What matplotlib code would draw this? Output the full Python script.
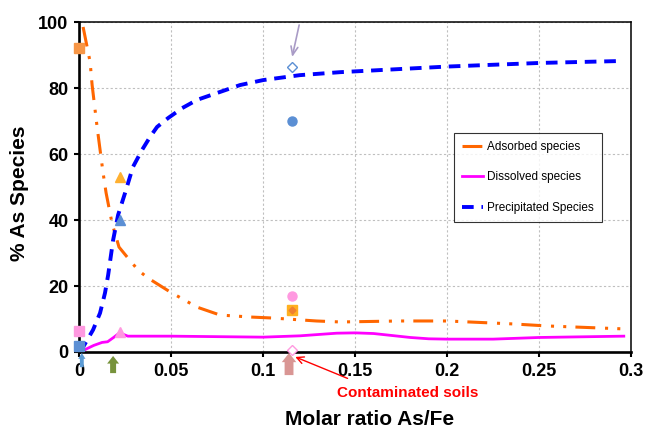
import matplotlib
matplotlib.use("Agg")
import matplotlib.pyplot as plt

plt.rcParams['font.family'] = ['Liberation Sans', 'DejaVu Sans']

# ---- data ----
ads_x = [0.0022, 0.006, 0.0071, 0.0098, 0.013, 0.0147, 0.0179, 0.0217, 0.0261, 0.0321,
         0.0375, 0.0495, 0.0641, 0.0766, 0.093, 0.105, 0.129, 0.142, 0.174, 0.2,
         0.236, 0.254, 0.296]
ads_y = [98.5, 87.9, 80.9, 68.2, 54.5, 48.2, 39.1, 31.8, 28.8, 24.8,
         22.4, 18.2, 13.6, 11.2, 10.6, 10.3, 9.4, 9.1, 9.4, 9.4,
         8.5, 7.9, 7.0]

dis_x = [0.0005, 0.008, 0.0125, 0.0155, 0.019, 0.022, 0.0265, 0.035, 0.05, 0.1,
         0.12, 0.13, 0.14, 0.15, 0.16, 0.17, 0.18, 0.19, 0.2, 0.225, 0.25, 0.296]
dis_y = [0.0, 2.0, 2.9, 3.1, 4.5, 5.8, 4.8, 4.8, 4.8, 4.5,
         4.9, 5.3, 5.7, 5.8, 5.6, 5.0, 4.4, 4.0, 3.9, 3.9, 4.4, 4.8]

pre_x = [0.0005, 0.0022, 0.0076, 0.0114, 0.0141, 0.0158, 0.0185, 0.0212, 0.025, 0.0293,
         0.0342, 0.0386, 0.0424, 0.0484, 0.056, 0.0641, 0.075, 0.0875, 0.1, 0.12,
         0.1418, 0.2, 0.2505, 0.2957]
pre_y = [0.0, 1.5, 6.7, 11.8, 17.9, 23.3, 33.9, 41.5, 48.2, 56.1,
         61.2, 65.2, 68.2, 70.9, 73.9, 76.4, 78.5, 80.9, 82.4, 83.9,
         84.8, 86.5, 87.6, 88.2]

# experimental points
sq_x = [0.0, 0.0, 0.0]
sq_y = [92.0, 6.5, 1.8]
sq_c = ['#F79646', '#FF99E0', '#5B8FD4']

tri_x = [0.0225, 0.0225, 0.0225]
tri_y = [53.0, 40.0, 6.0]
tri_c = ['#FFB030', '#5B8FD4', '#FF99E0']

soil_x = 0.1158
soil_circ_y = [70.0, 17.0]
soil_circ_c = ['#5B8FD4', '#FF99E0']
soil_sq_y = 12.7
soil_dia_open_y = [86.4, 0.6]
soil_dia_open_c = ['#5B8FD4', '#FF99E0']

xticks = [0, 0.05, 0.1, 0.15, 0.2, 0.25, 0.3]
xtick_labels = ['0', '0.05', '0.1', '0.15', '0.2', '0.25', '0.3']
yticks = [0, 20, 40, 60, 80, 100]

legend_labels = ['Adsorbed species', 'Dissolved species', 'Precipitated Species']

# ---- figure ----
fig = plt.figure(figsize=(6.48, 4.30), dpi=100)
ax = fig.add_axes([0.122, 0.1814, 0.852, 0.7674])

ax.set_xlim(0, 0.3)
ax.set_ylim(0, 100)

ax.grid(True, color='#BFBFBF', linestyle=(0, (2, 2)), linewidth=0.8)
ax.set_axisbelow(True)

l1, = ax.plot(ads_x, ads_y, color='#FF6600', lw=2.2,
              linestyle=(0, (6.5, 3.2, 1, 3, 1, 3)), label=legend_labels[0], zorder=3)
l2, = ax.plot(dis_x, dis_y, color='#FF00FF', lw=2.0, label=legend_labels[1], zorder=3)
l3, = ax.plot(pre_x, pre_y, color='#0000FF', lw=2.8,
              linestyle=(0, (3.0, 2.0)), label=legend_labels[2], zorder=3)

for x, y, c in zip(sq_x, sq_y, sq_c):
    ax.plot([x], [y], marker='s', ms=6.5, color=c, mec=c, ls='none', clip_on=False, zorder=4)
for x, y, c in zip(tri_x, tri_y, tri_c):
    ax.plot([x], [y], marker='^', ms=7, color=c, mec=c, ls='none', clip_on=False, zorder=4)
for y, c in zip(soil_circ_y, soil_circ_c):
    ax.plot([soil_x], [y], marker='o', ms=6.5, color=c, mec=c, ls='none', zorder=4)
ax.plot([soil_x], [soil_sq_y], marker='s', ms=6.5, color='#FFB020', mec='#FFB020', ls='none', zorder=4)
ax.plot([soil_x], [soil_sq_y], marker='D', ms=3.5, color='#F08030', mec='#F08030', ls='none', zorder=5)
for y, c in zip(soil_dia_open_y, soil_dia_open_c):
    ax.plot([soil_x], [y], marker='D', ms=5, mfc='white', mec=c, mew=1.0, ls='none',
            clip_on=False, zorder=5)

# axes styling
for s in ['left', 'bottom']:
    ax.spines[s].set_linewidth(1.9)
for s in ['top', 'right']:
    ax.spines[s].set_linewidth(1.1)
ax.set_xticks(xticks)
ax.set_xticklabels(xtick_labels)
ax.set_yticks(yticks)
ax.tick_params(axis='both', direction='out', length=3.6, width=1.5, labelsize=13, pad=4)
for t in ax.get_xticklabels() + ax.get_yticklabels():
    t.set_fontweight('bold')

ax.set_xlabel('Molar ratio As/Fe', fontsize=15, fontweight='bold')
ax.xaxis.set_label_coords(0.527, -0.206)
ax.xaxis.label.set_va('center')
ax.set_ylabel('% As Species', fontsize=15, fontweight='bold')
ax.yaxis.set_label_coords(-0.107, 0.48)
ax.yaxis.label.set_va('center')

leg = ax.legend(handles=[l1, l2, l3], loc='upper left', bbox_to_anchor=(0.679, 0.664),
                fontsize=8.5, frameon=True, fancybox=False, edgecolor='black',
                handlelength=1.8, handletextpad=0.3, labelspacing=1.55,
                borderpad=0.7, borderaxespad=0)
leg.get_frame().set_linewidth(0.8)

# annotations
ax.annotate('', xy=(0.1158, 89.4), xytext=(0.1196, 99.1),
            arrowprops=dict(arrowstyle='->,head_length=0.6,head_width=0.25',
                            color='#A99BC6', lw=1.2, shrinkA=0, shrinkB=0),
            annotation_clip=False)
ax.text(0.1785, -0.125, 'Contaminated soils', transform=ax.get_xaxis_transform(),
        color='#FF0000', fontsize=11, fontweight='bold', ha='center', va='center')
ax.annotate('', xy=(0.1175, -0.015), xytext=(0.1459, -0.08),
            xycoords=('data', 'axes fraction'), textcoords=('data', 'axes fraction'),
            arrowprops=dict(arrowstyle='->,head_length=0.5,head_width=0.25',
                            color='#FF0000', lw=1.0, shrinkA=0, shrinkB=0),
            annotation_clip=False)

block = [(0.0185, -0.012, -0.064, '#77933C', 10, 0.86, 0.43, 0.55),
         (0.1141, -0.003, -0.070, '#D99694', 11, 0.95, 0.58, 0.6),
         (0.0015, -0.003, -0.046, '#5B9BD5', 7, 0.75, 0.4, 0.6)]
for x, tip, tail, c, ms, hw, tw, hl in block:
    ax.annotate('', xy=(x, tip), xytext=(x, tail),
                xycoords=('data', 'axes fraction'), textcoords=('data', 'axes fraction'),
                arrowprops=dict(arrowstyle=f'simple,head_length={hl},head_width={hw},tail_width={tw}',
                                fc=c, ec='none', mutation_scale=ms, shrinkA=0, shrinkB=0),
                annotation_clip=False)

fig.savefig('out.png', dpi=100)
